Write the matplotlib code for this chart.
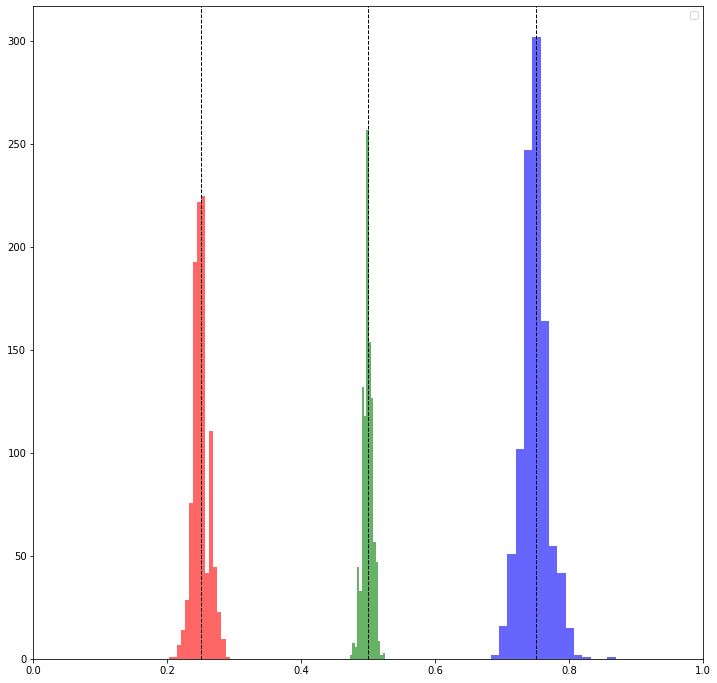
import numpy as np
import matplotlib
matplotlib.use("Agg")
import matplotlib.pyplot as plt

# bin ranges (15 bins each) and counts
red_range = (0.2023, 0.2930)
red_counts = [1, 1, 7, 14, 29, 76, 193, 222, 225, 42, 111, 45, 23, 10, 1]

green_range = (0.4728, 0.5252)
green_counts = [2, 8, 6, 45, 33, 132, 118, 257, 154, 127, 57, 47, 9, 2, 3]

blue_range = (0.6831, 0.8694)
blue_counts = [2, 16, 51, 102, 247, 302, 164, 55, 42, 15, 2, 1, 0, 0, 1]

targets = [0.25, 0.5, 0.75]

fig = plt.figure(figsize=(717 / 72, 683 / 72), dpi=72)
ax = fig.add_subplot(111)
fig.subplots_adjust(left=0.0465, right=0.9805, top=0.9912, bottom=0.0347)

for rng, counts, color in [(red_range, red_counts, "red"),
                           (green_range, green_counts, "green"),
                           (blue_range, blue_counts, "blue")]:
    edges = np.linspace(rng[0], rng[1], len(counts) + 1)
    centers = (edges[:-1] + edges[1:]) / 2
    ax.hist(centers, bins=edges, weights=counts, color=color, alpha=0.6)

for t in targets:
    ax.axvline(t, color="black", linestyle="--", linewidth=1)

ax.set_xlim(0, 1)
ax.legend()

fig.savefig("out.png", dpi=72)
